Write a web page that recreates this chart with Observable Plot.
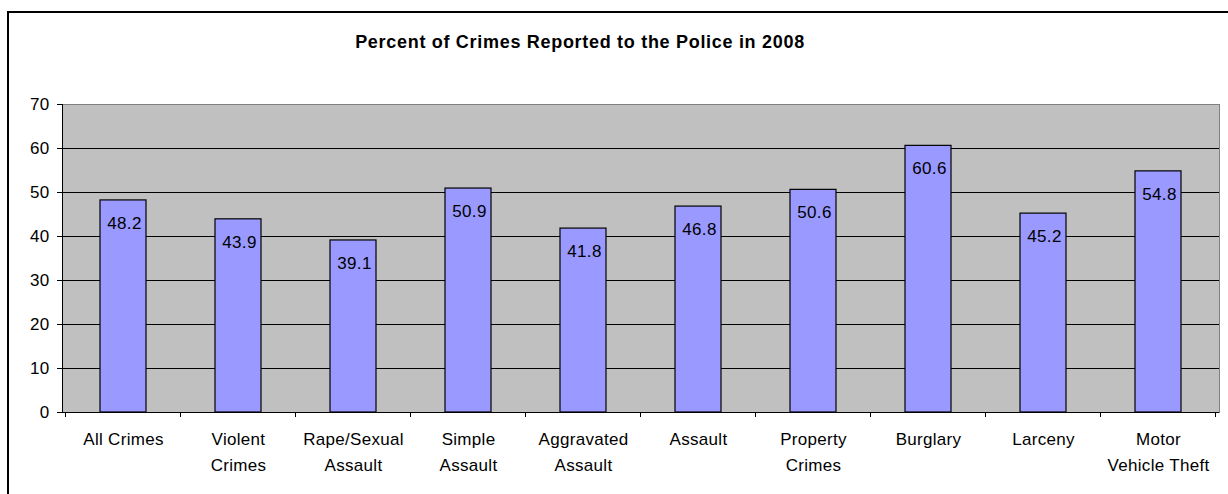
<!DOCTYPE html>
<html>
<head>
<meta charset="utf-8">
<script src="https://cdn.jsdelivr.net/npm/d3@7"></script>
<script src="https://cdn.jsdelivr.net/npm/@observablehq/plot@0.6"></script>
<style>
  html, body { margin: 0; padding: 0; background: #fff; }
  #wrap { position: relative; width: 1228px; height: 494px; overflow: hidden; font-family: Arial, "Liberation Sans", sans-serif; }
  #border { position: absolute; left: 7px; top: 11px; width: 1400px; height: 600px; border-left: 2px solid #000; border-top: 2px solid #000; box-sizing: border-box; }
  #title { position: absolute; left: 0; top: 33px; width: 1160px; text-align: center; font-weight: bold; font-size: 18px; line-height: 18px; letter-spacing: 0.7px; color: #000; }
  #chart { position: absolute; left: 0; top: 0; }
  #chart svg text { letter-spacing: 0.3px; }
</style>
</head>
<body>
<div id="wrap">
  <div id="border"></div>
  <div id="chart"></div>
  <div id="title">Percent of Crimes Reported to the Police in 2008</div>
</div>
<script>
const categories = ["All Crimes", "Violent\nCrimes", "Rape/Sexual\nAssault", "Simple\nAssault", "Aggravated\nAssault", "Assault", "Property\nCrimes", "Burglary", "Larceny", "Motor\nVehicle Theft"];
const values = [48.2, 43.9, 39.1, 50.9, 41.8, 46.8, 50.6, 60.6, 45.2, 54.8];
const yTicks = [0, 10, 20, 30, 40, 50, 60, 70];
const gridValues = [10, 20, 30, 40, 50, 60];

const data = categories.map((c, i) => ({category: c, value: values[i]}));

const chart = Plot.plot({
  width: 1228,
  height: 494,
  marginLeft: 62,
  marginRight: 9,
  marginTop: 104,
  marginBottom: 82,
  style: {fontFamily: 'Arial, "Liberation Sans", sans-serif', fontSize: "17px", color: "#000", background: "transparent"},
  x: {domain: categories, paddingInner: 0.6, paddingOuter: 0.3, align: 0.5},
  y: {domain: [0, 70]},
  marks: [
    Plot.frame({fill: "#c0c0c0", stroke: "#808080"}),
    Plot.ruleY(gridValues, {stroke: "#000", strokeWidth: 1}),
    Plot.barY(data, {x: "category", y: "value", fill: "#9999ff", stroke: "#000", strokeWidth: 1.2}),
    Plot.text(data, {x: "category", y: "value", text: d => d.value.toFixed(1), lineAnchor: "middle", dy: 23, dx: 1, fill: "#000"}),
    Plot.ruleY([0], {stroke: "#000"}),
    Plot.frame({anchor: "left", stroke: "#000"}),
    Plot.axisY({ticks: yTicks, tickSize: 5, tickPadding: 8, stroke: "#000", fill: "#000", label: null, tickFormat: d => String(d)}),
    Plot.axisX({tickSize: 0, tickPadding: 14, lineHeight: 1.53, fill: "#000", label: null})
  ]
});

document.getElementById("chart").appendChild(chart);

// category boundary tick marks on x axis, placed through the plot's own scales
const xs = chart.scale("x");
const ys = chart.scale("y");
const y0 = ys.apply(0);
const bounds = categories.map(c => xs.apply(c) + xs.bandwidth / 2 - xs.step / 2);
bounds.push(xs.apply(categories[categories.length - 1]) + xs.bandwidth / 2 + xs.step / 2);
d3.select(chart).append("g")
  .attr("stroke", "#000")
  .selectAll("line")
  .data(bounds)
  .join("line")
  .attr("x1", d => d)
  .attr("x2", d => d)
  .attr("y1", y0)
  .attr("y2", y0 + 5);
</script>
</body>
</html>
